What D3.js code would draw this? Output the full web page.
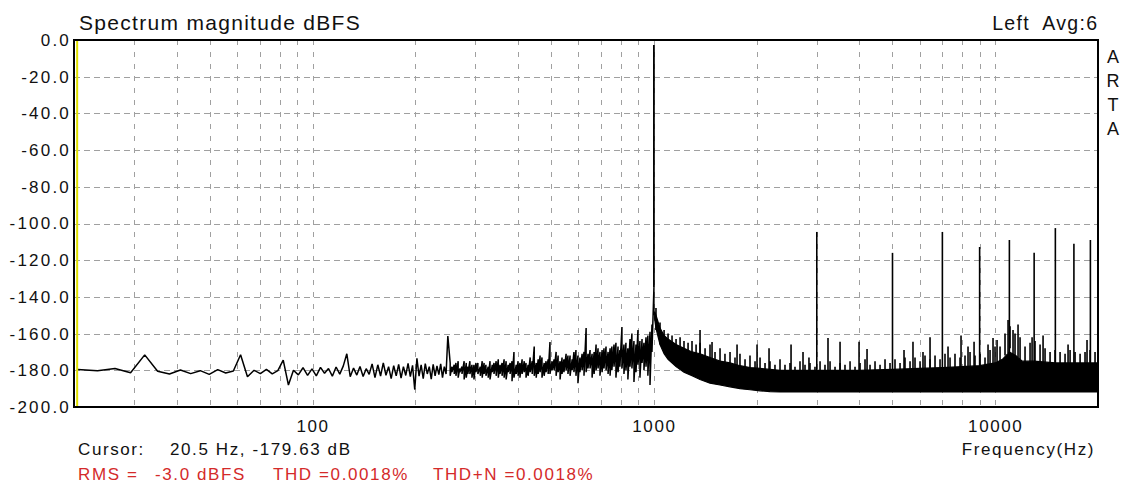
<!DOCTYPE html>
<html><head><meta charset="utf-8">
<script src="https://cdn.jsdelivr.net/npm/d3@7"></script>
<style>
body{margin:0;background:#fff;}
svg{display:block;font-family:"Liberation Sans",Arial,sans-serif;}
text{white-space:pre;}
</style></head><body>
<svg id="chart" width="1125" height="488"></svg>
<script>
// ---------------- data ----------------
const binHz = 2.9296875;          // FFT bin width
const lowFirstBin = 7;            // first bin shown (20.5 Hz)
const lowDb = [
 -179.6,-180.2,-179.0,-181.3,-171.6,-180.5,-182.0,-179.8,-181.8,-180.2,
 -182.2,-179.6,-181.5,-180.4,-171.5,-183.5,-180.0,-181.8,-179.5,-181.9,
 -180.2,-174.5,-188.0,-180.0,-182.5,-178.6,-182.8,-179.2,-183.0,-178.4,
 -181.6,-179.0,-183.2,-178.2,-182.1,-177.6,-171.0,-183.5,-178.8,-182.6,
 -177.9,-183.4,-179.1,-182.2,-176.5,-184.0,-177.0,-183.1,-176.0,-182.7,
 -178.0,-184.5,-177.5,-183.0,-176.8,-184.2,-178.0,-182.8,-176.2,-183.5,
 -177.3,-190.5,-173.5,-183.2,-177.0,-184.6,-176.4,-182.0,-178.0,-184.8,
 -176.8,-183.0,-177.6,-182.4,-176.5,-184.0,-178.0,-182.0,-161.3
];
// 250 Hz .. 1 kHz : min / max per display column
const midHz = [253,256,260,263,267,270,274,278,282,285,289,293,297,301,305,310,314,318,322,327,
 331,336,340,345,350,354,359,364,369,374,379,384,389,395,400,405,411,417,422,428,
 434,440,446,452,458,464,470,477,483,490,496,503,510,517,524,531,538,545,553,560,
 568,576,583,591,599,607,616,624,633,641,650,659,668,677,686,695,705,714,724,734,
 744,753,764,774,785,795,806,817,828,839,851,862,874,886,898,910,923,935,948,960,
 974,987,1000];
const midHi = [-176,-178,-177,-176,-175,-179,-178,-175,-176,-178,-175,-177,-177,-176,-176,-178,-175,-176,-177,-178,
 -175,-177,-176,-175,-174,-177,-176,-174,-175,-177,-176,-175,-170,-177,-175,-176,-174,-175,-176,-177,
 -173,-175,-167,-176,-174,-172,-173,-176,-175,-174,-164.6,-175,-174,-170,-172,-175,-173,-174,-171,-172,
 -172,-174,-170,-169,-172,-173,-171,-170,-157,-171,-169,-171,-170,-166,-168,-170,-169,-168,-167,-170,
 -168,-167,-166,-165,-167,-169,-156.4,-166,-165,-168,-163,-160,-164,-166,-158,-164,-163,-165,-162,-161,
 -159,-155,-135];
const midLo = [-183,-181,-182,-183,-184,-181,-182,-185,-184,-182,-182,-184,-185,-181,-182,-183,-184,-182,-183,-184,
 -185,-181,-182,-183,-184,-182,-183,-184,-185,-181,-182,-186,-184,-182,-183,-184,-182,-181,-184,-183,
 -181,-182,-183,-184,-182,-181,-184,-183,-181,-182,-182,-180,-180,-183,-181,-185,-182,-181,-180,-182,
 -183,-180,-181,-183,-187,-181,-180,-183,-181,-179,-179,-184,-182,-180,-179,-183,-181,-179,-180,-182,
 -183,-180,-178,-184,-181,-178,-179,-182,-180,-185,-178,-179,-186.4,-181,-177,-184,-176,-180,-178,-183,
 -188,-170,-150];
// solid noise floor above 1 kHz
const coreHz = [1005,1014,1042,1071,1100,1161,1225,1293,1365,1460,1562,1671,1787,1912,2046,2188,2341,3000,4000,5000,
 6000,7000,8000,9000,10000,10500,11000,11500,12000,13000,15000,20000];
const coreTop = [-148,-150,-157,-161,-163,-166,-168,-170,-171,-173,-175,-176,-177.5,-178.5,-179,-179.5,-180,-180,-180,-179.5,
 -179,-178.5,-178,-177.5,-176,-174,-170,-172,-175,-175,-176,-176];
const coreBottom = [-152,-157,-166,-171,-174,-178,-181,-183,-185,-187,-188,-189,-190,-190.6,-191.2,-191.6,-191.8,-191.8,-191.8,-191.8,
 -191.8,-191.8,-191.8,-191.8,-191.8,-191.8,-191.8,-191.8,-191.8,-191.8,-191.8,-191.8];
// noise peaks on top of the floor
const bandHz = [1014,1042,1071,1100,1130,1161,1193,1225,1259,1293,1329,1365,1412,1460,1510,1562,1615,1671,1728,1787,
 1849,1912,1978,2046,2116,2188,2263,2341,2421,2504,2590,2679,2771,2866,2964,3067,3171,3281,3393,3510,
 3629,3755,3883,4017,4154,4297,4444,4597,4754,4917,5085,5261,5440,5628,5820,6021,6226,6441,6661,6890,
 7125,7371,7622,7885,8155,8436,8724,9025,9333,9655,9984,10328,10681,11049,11427,11821,12225,12646,13078,13529,
 13992,14474,14969,15485,16014,16566,17133,17723,18324,18955,19604];
const bandTop = [-146,-154,-158,-160,-161,-163,-162,-164,-165,-164,-166,-165,-168,-166,-170,-168,-171,-170,-173,-171,
 -174,-172,-175,-173,-176,-175,-177,-174,-177,-176,-178,-175,-177,-176,-178,-175,-177,-175,-178,-176,
 -177,-175,-178,-176,-174,-177,-175,-177,-174,-176,-174,-176,-173,-175,-173,-175,-172,-174,-172,-174,
 -171,-173,-171,-173,-172,-170,-172,-171,-173,-169,-167,-167,-160,-156,-160,-162,-167,-165,-164,-166,
 -168,-170,-169,-170,-171,-169,-170,-171,-170,-169,-170];
const spikeHz = [1365,1480,1752,2005,2174,2522,2734,2846,3236,3510,3990,4211,5404,5741,6142,6441,7272,7939,8322,8668,
 9525,9851,10122,10902,11274,11662,12820,13806,16342,18572];
const spikeDb = [-158,-164.6,-166,-166,-168,-166,-170,-173,-162.4,-164.5,-164.5,-168.4,-169,-164.5,-170,-162,-167,-161,-167,-164.5,
 -166,-162.4,-163.5,-152.6,-158,-155,-162,-161,-166,-163.5];
const harmonicHz = [3000,5000,7000,9000,11000,13000,15000,17000,19000];
const harmonicDb = [-104.6,-116,-104.6,-112.8,-109,-116,-102.5,-111,-109];
const fundamentalHz = 1000, fundamentalDb = -2.7, fundamentalBase = -135;
const cursorHz = 20.5;
const yTicks = [0,-20,-40,-60,-80,-100,-120,-140,-160,-180,-200];
const xTickLabels = [100,1000,10000];
const gridHz = [30,40,50,60,70,80,90,100,200,300,400,500,600,700,800,900,1000,2000,3000,4000,5000,6000,7000,8000,9000,10000];
const titleText = "Spectrum magnitude dBFS";
const channelText = "Left  Avg:6";
const brandLetters = ["A","R","T","A"];
const cursorLabel = "Cursor:";
const cursorValue = "20.5 Hz, -179.63 dB";
const statTexts = ["RMS =", "-3.0 dBFS", "THD =0.0018%", "THD+N =0.0018%"];
const statX = [78,155,273,433];

// ---------------- layout ----------------
const L = 74, R = 1098, T = 40, B = 407;
const svg = d3.select("#chart");
const x = d3.scaleLog().domain([20,20000]).range([L,R]);
const y = d3.scaleLinear().domain([-200,0]).range([B,T]);
const px = v => Math.round(v) + 0.5;

svg.append("defs").append("clipPath").attr("id","plot")
  .append("rect").attr("x",L).attr("y",T).attr("width",R-L).attr("height",B-T);

// grid
const grid = svg.append("g").attr("stroke","#a0a0a0").attr("stroke-width",1);
grid.selectAll("line.h").data(yTicks.filter(d=>d<0 && d>-200)).join("line")
  .attr("x1",L).attr("x2",R).attr("y1",d=>px(y(d))).attr("y2",d=>px(y(d)))
  .attr("stroke-dasharray","6,4");
grid.selectAll("line.v").data(gridHz).join("line")
  .attr("y1",T).attr("y2",B).attr("x1",d=>px(x(d))).attr("x2",d=>px(x(d)))
  .attr("stroke-dasharray","5,7");

// data
const data = svg.append("g").attr("clip-path","url(#plot)");
const lowPts = lowDb.map((v,i)=>[(lowFirstBin+i)*binHz, v]);
const midPts = [];
midHz.forEach((f,i)=>{ midPts.push([f,midHi[i]]); midPts.push([f,midLo[i]]); });
const line = d3.line().x(d=>x(d[0])).y(d=>y(d[1]));
data.append("path").attr("d", line(lowPts.concat(midPts)))
  .attr("fill","none").attr("stroke","#000").attr("stroke-width",1.5).attr("stroke-linejoin","bevel");

const corePts = coreHz.map((f,i)=>({f, t:coreTop[i], b:coreBottom[i]}));
data.append("path").datum(corePts)
  .attr("d", d3.area().x(d=>x(d.f)).y0(d=>y(d.b)).y1(d=>y(d.t)))
  .attr("fill","#000").attr("stroke","#000").attr("stroke-width",1.2);

const vlines = (cls, hz, db, w, depth) => data.selectAll("line."+cls).data(hz.map((f,i)=>[f,db[i]])).join("line")
  .attr("class",cls)
  .attr("x1",d=>x(d[0])).attr("x2",d=>x(d[0])).attr("y1",d=>y(d[1]))
  .attr("y2",d=> depth ? y(d[1]-depth) : y(-186))
  .attr("stroke","#000").attr("stroke-width",w);
vlines("bd", bandHz, bandTop, 1.6, 12);
vlines("sp", spikeHz, spikeDb, 1.6, 18);
vlines("hm", harmonicHz, harmonicDb, 1.6, 0);
data.append("line")
  .attr("x1",x(fundamentalHz)).attr("x2",x(fundamentalHz))
  .attr("y1",y(fundamentalDb)).attr("y2",y(fundamentalBase))
  .attr("stroke","#000").attr("stroke-width",1.8);

// cursor
svg.append("line").attr("x1",x(cursorHz)-0.5).attr("x2",x(cursorHz)-0.5).attr("y1",T).attr("y2",B)
  .attr("stroke","#e0e000").attr("stroke-width",2);

// frame
svg.append("rect").attr("x",L).attr("y",T).attr("width",R-L).attr("height",B-T)
  .attr("fill","none").attr("stroke","#000").attr("stroke-width",2);

// axes
const yAxis = svg.append("g").attr("transform",`translate(${L},0)`)
  .call(d3.axisLeft(y).tickValues(yTicks).tickFormat(d=>d.toFixed(1)).tickSize(0).tickPadding(3));
yAxis.select(".domain").remove();
yAxis.selectAll("text").attr("font-size",17).attr("fill","#111").style("letter-spacing","2.2px")
  .attr("font-family","Liberation Sans, Arial, sans-serif");

const xAxis = svg.append("g").attr("transform",`translate(0,${B})`)
  .call(d3.axisBottom(x).tickValues(xTickLabels).tickFormat(d=>String(d)).tickSize(0).tickPadding(13));
xAxis.select(".domain").remove();
xAxis.selectAll("text").attr("font-size",17).attr("fill","#111").style("letter-spacing","1.6px")
  .attr("font-family","Liberation Sans, Arial, sans-serif");

// texts
const txt = (s,xx,yy,size,opts={}) => svg.append("text").text(s).attr("x",xx).attr("y",yy)
  .attr("font-size",size).attr("fill",opts.fill||"#111").attr("text-anchor",opts.anchor||"start")
  .style("letter-spacing",(opts.ls||0)+"px");
txt(titleText,79,30,21,{ls:1.3});
txt(channelText,1098.3,30,19.5,{ls:1.3,anchor:"end"});
brandLetters.forEach((c,i)=>txt(c,1113,63+i*24,18,{anchor:"middle"}));
txt(cursorLabel,78,455,17,{ls:1.6});
txt(cursorValue,170,455,17,{ls:1.6});
txt("Frequency(Hz)",1095,455,17,{ls:1.6,anchor:"end"});
statTexts.forEach((s,i)=>txt(s,statX[i],480,17,{ls:1.6,fill:"#d42a2a"}));
</script>
</body></html>
